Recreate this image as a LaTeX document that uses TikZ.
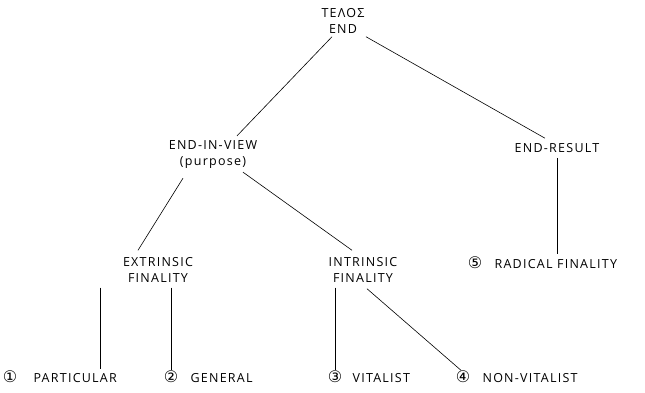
\documentclass[tikz,border=0pt]{standalone}
\usepackage{fontspec}
\setmainfont{Open Sans}[LetterSpace=10]
\newfontfamily\circfont{DejaVu Sans}
\usetikzlibrary{positioning}
\usetikzlibrary{calc}
\tikzstyle{lbl}=[inner sep=1pt, align=center, font=\fontsize{12.5}{16}\selectfont]
\tikzstyle{leaf}=[lbl, text height=9pt, text depth=2pt]
\tikzstyle{circ}=[leaf, font=\fontsize{16}{16}\selectfont\circfont]
\tikzstyle{link}=[line width=0.6pt]

\begin{document}
\begin{tikzpicture}[x=1pt, y=1pt, node distance=12pt]
    \useasboundingbox (0,0) rectangle (645,-392);

    \node[lbl] (telos) at (343,-21) {ΤΕΛΟΣ\\END};

    \node[lbl] (view) at (213,-155) {END-IN-VIEW\\(purpose)};
    \draw[link] ([xshift=-11pt,yshift=-2pt]telos.south) -- ([xshift=24pt,yshift=4pt]view.north);

    \node[lbl] (result) at (557,-148) {END-RESULT};
    \draw[link] ([xshift=23pt,yshift=-2pt]telos.south) -- ([xshift=-12pt,yshift=4pt]result.north);

    \node[lbl] (extr) at (158,-270) {EXTRINSIC\\FINALITY};
    \draw[link] ([xshift=-30pt,yshift=-8pt]view.south) -- ([xshift=-20pt,yshift=6pt]extr.north);

    \node[lbl] (intr) at (363,-270) {INTRINSIC\\FINALITY};
    \draw[link] ([xshift=30pt,yshift=-2pt]view.south) -- ([xshift=-11pt,yshift=6pt]intr.north);

    \node[circ] (c5) at (475,-265) {⑤};
    \node[leaf, right=10pt of c5] (radical) {RADICAL FINALITY};
    \draw[link] ([yshift=-4pt]result.south) -- ($(result.south |- radical.north)+(0,4)$);

    % bottom row
    \node[circ] (c1) at (10,-379) {①};
    \node[leaf, right=14pt of c1] (partic) {PARTICULAR};
    \node[circ] (c2) at (171,-379) {②};
    \node[leaf, right=10pt of c2] (general) {GENERAL};
    \node[circ] (c3) at (335,-379) {③};
    \node[leaf, right=8pt of c3] (vital) {VITALIST};
    \node[circ] (c4) at (463,-379) {④};
    \node[leaf, right=10pt of c4] (nonvital) {NON-VITALIST};

    \draw[link] ($(extr.south)+(-58,-4)$) coordinate (e1) -- ($(e1 |- partic.north)+(0,3)$);
    \draw[link] ($(extr.south -| c2.north)+(0,-4)$) -- ($(c2.north)+(0,2)$);
    \draw[link] ($(intr.south -| c3.north)+(0,-4)$) -- ($(c3.north)+(0,2)$);
    \draw[link] ($(intr.south)+(4,-5)$) -- ($(c4.north)+(-2,2)$);
\end{tikzpicture}
\end{document}
